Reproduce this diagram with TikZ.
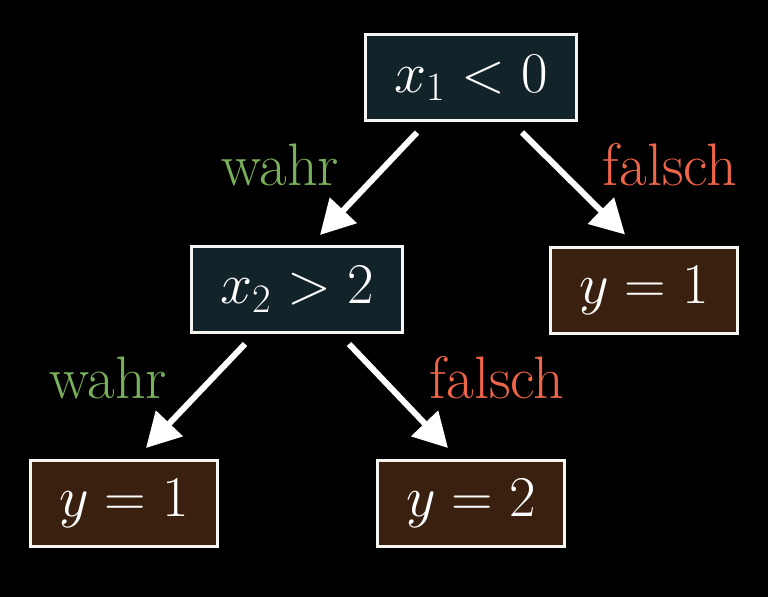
\RequirePackage{fix-cm}
\documentclass[tikz,border=0pt]{standalone}
\usepackage{xcolor}
\usepackage{amsmath}
\usepackage{tikz}
\usetikzlibrary{arrows.meta,calc,positioning}

\definecolor{testfill}{HTML}{13232A}
\definecolor{leaffill}{HTML}{3A200E}
\definecolor{wahrgreen}{HTML}{79B05A}
\definecolor{falschred}{HTML}{F06548}
\definecolor{rim}{HTML}{F4F4F0}

\begin{document}
\begin{tikzpicture}[x=0.5pt,y=-0.5pt,arrow/.style = {line width=3pt,draw=white,-{Triangle[width=18pt,length=17pt]}}]
				\tikzset{test/.style={draw=rim,line width=1.5pt,fill=testfill,text=white,minimum height=43pt,inner xsep=14.5pt,font=\fontsize{28.8}{34}\selectfont}}
				\tikzset{leaf/.style={test,fill=leaffill}}
				\tikzset{answer/.style={font=\fontsize{30}{36}\selectfont}}

				\fill[black] (0,0) rectangle (768,597);

				% Tests
				\node[test] (root) at (471,78) {$x_1 < 0$};
				\node[test] (xtwo) at (297,289.5) {$x_2 > 2$};

				% Blaetter
				\node[leaf] (yright) at (644,291) {$y = 1$};
				\node[leaf] (yleft) at (124,503.5) {$y = 1$};
				\node[leaf] (ymid) at (471,503.5) {$y = 2$};

				\draw [arrow] ([xshift=-27pt,yshift=-5pt]root.south) -- ([xshift=11.5pt,yshift=5pt]xtwo.north);
				\draw [arrow] ([xshift=25.5pt,yshift=-5pt]root.south) -- ([xshift=-9.5pt,yshift=6pt]yright.north);
				\draw [arrow] ([xshift=-26pt,yshift=-5pt]xtwo.south) -- ([xshift=11pt,yshift=5.5pt]yleft.north);
				\draw [arrow] ([xshift=26pt,yshift=-5pt]xtwo.south) -- ([xshift=-11.5pt,yshift=5.5pt]ymid.north);

				\node[answer, text=wahrgreen] (w1) at (280,165) {wahr};
				\node[answer, text=falschred] (f1) at (670,165) {falsch};
				\node[answer, text=wahrgreen] (w2) at (108,378) {wahr};
				\node[answer, text=falschred] (f2) at (497,378) {falsch};

			\end{tikzpicture}
\end{document}
